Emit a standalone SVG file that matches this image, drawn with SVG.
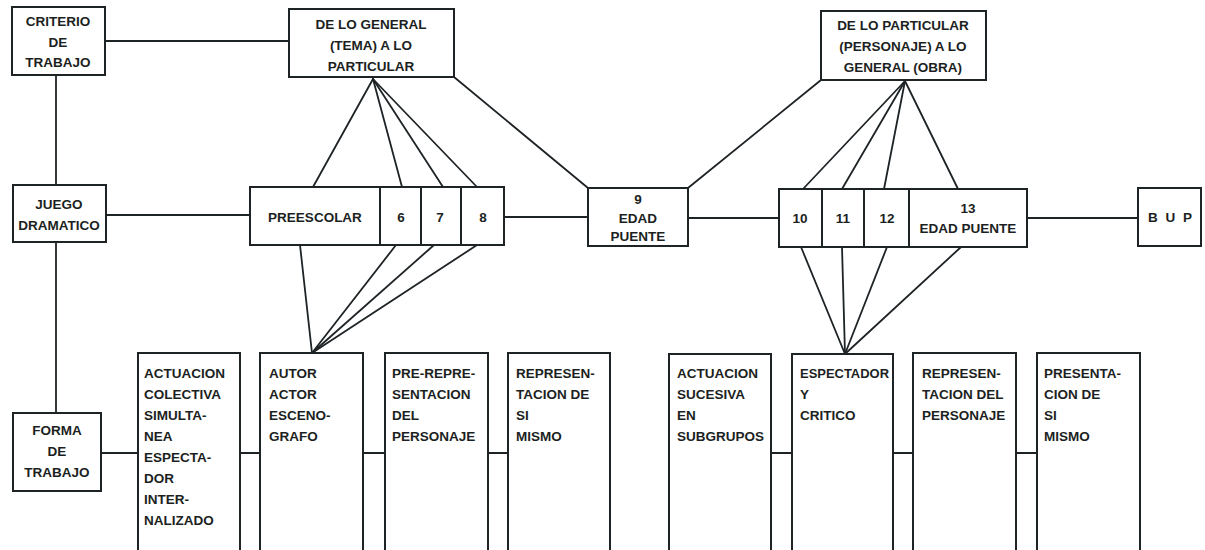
<svg xmlns="http://www.w3.org/2000/svg" width="1205" height="550" viewBox="0 0 1205 550">
  <style>
    .box { fill: #ffffff; stroke: #1e2326; stroke-width: 2; }
    .ln { fill: none; stroke: #1e2326; stroke-width: 1.8; stroke-linecap: round; }
    text { font-family: "Liberation Sans", Arial, sans-serif; font-weight: bold; font-size: 13.5px; fill: #1c1f22; }
    .c { text-anchor: middle; }
  </style>
  <rect width="1205" height="550" fill="#ffffff"/>

  <!-- connectors -->
  <g id="connectors">
    <!-- left column -->
    <line class="ln" x1="105" y1="41" x2="289" y2="41"/>
    <line class="ln" x1="56" y1="75" x2="56" y2="185"/>
    <line class="ln" x1="56" y1="242" x2="56" y2="413"/>
    <line class="ln" x1="106" y1="215" x2="250" y2="215"/>
    <!-- age row -->
    <line class="ln" x1="504" y1="217" x2="588" y2="217"/>
    <line class="ln" x1="688" y1="218" x2="779" y2="218"/>
    <line class="ln" x1="1027" y1="218" x2="1138" y2="218"/>
    <!-- fan: general to particular -->
    <line class="ln" x1="373" y1="79" x2="313" y2="187"/>
    <line class="ln" x1="373" y1="79" x2="402" y2="187"/>
    <line class="ln" x1="373" y1="79" x2="443" y2="187"/>
    <line class="ln" x1="373" y1="79" x2="477" y2="187"/>
    <line class="ln" x1="454" y1="77" x2="588" y2="188"/>
    <!-- fan: particular to general -->
    <line class="ln" x1="821" y1="80" x2="688" y2="188"/>
    <line class="ln" x1="905" y1="81" x2="803" y2="189"/>
    <line class="ln" x1="905" y1="81" x2="842" y2="189"/>
    <line class="ln" x1="905" y1="81" x2="884" y2="189"/>
    <line class="ln" x1="905" y1="81" x2="958" y2="189"/>
    <!-- fan down to AUTOR -->
    <line class="ln" x1="300" y1="245" x2="312" y2="353"/>
    <line class="ln" x1="396" y1="245" x2="312" y2="353"/>
    <line class="ln" x1="434" y1="245" x2="312" y2="353"/>
    <line class="ln" x1="477" y1="245" x2="312" y2="353"/>
    <!-- fan down to ESPECTADOR -->
    <line class="ln" x1="801" y1="247" x2="845" y2="354"/>
    <line class="ln" x1="842" y1="247" x2="845" y2="354"/>
    <line class="ln" x1="887" y1="247" x2="845" y2="354"/>
    <line class="ln" x1="961" y1="247" x2="845" y2="354"/>
    <!-- working-form row -->
    <line class="ln" x1="101" y1="453" x2="138" y2="453"/>
    <line class="ln" x1="240" y1="453" x2="260" y2="453"/>
    <line class="ln" x1="363" y1="453" x2="385" y2="453"/>
    <line class="ln" x1="488" y1="453" x2="508" y2="453"/>
    <line class="ln" x1="771" y1="453" x2="792" y2="453"/>
    <line class="ln" x1="893" y1="453" x2="913" y2="453"/>
    <line class="ln" x1="1016" y1="453" x2="1037" y2="453"/>
  </g>

  <!-- row headings -->
  <g id="criterio">
    <rect class="box" x="12" y="7" width="93" height="68"/>
    <text class="c" x="58" y="26">CRITERIO</text>
    <text class="c" x="58" y="47">DE</text>
    <text class="c" x="58" y="67">TRABAJO</text>
  </g>
  <g id="juego">
    <rect class="box" x="13" y="185" width="93" height="57"/>
    <text class="c" x="59" y="209">JUEGO</text>
    <text class="c" x="59" y="230">DRAMATICO</text>
  </g>
  <g id="forma">
    <rect class="box" x="13" y="413" width="88" height="78"/>
    <text class="c" x="57" y="435">FORMA</text>
    <text class="c" x="57" y="456">DE</text>
    <text class="c" x="57" y="477">TRABAJO</text>
  </g>

  <!-- criteria -->
  <g id="general-particular">
    <rect class="box" x="289" y="9" width="165" height="68"/>
    <text class="c" x="371" y="29">DE LO GENERAL</text>
    <text class="c" x="371" y="50">(TEMA) A LO</text>
    <text class="c" x="371" y="71">PARTICULAR</text>
  </g>
  <g id="particular-general">
    <rect class="box" x="821" y="11" width="165" height="69"/>
    <text class="c" x="903" y="30">DE LO PARTICULAR</text>
    <text class="c" x="903" y="51">(PERSONAJE) A LO</text>
    <text class="c" x="903" y="72">GENERAL (OBRA)</text>
  </g>

  <!-- ages -->
  <g id="preescolar">
    <rect class="box" x="250" y="187" width="130" height="58"/>
    <text class="c" x="315" y="222">PREESCOLAR</text>
  </g>
  <g id="edad-6">
    <rect class="box" x="380" y="187" width="41" height="58"/>
    <text class="c" x="401" y="222">6</text>
  </g>
  <g id="edad-7">
    <rect class="box" x="421" y="187" width="40" height="58"/>
    <text class="c" x="440" y="222">7</text>
  </g>
  <g id="edad-8">
    <rect class="box" x="461" y="187" width="43" height="58"/>
    <text class="c" x="483" y="222">8</text>
  </g>
  <g id="edad-9">
    <rect class="box" x="588" y="188" width="100" height="58"/>
    <text class="c" x="638" y="204">9</text>
    <text class="c" x="638" y="223">EDAD</text>
    <text class="c" x="638" y="241">PUENTE</text>
  </g>
  <g id="edad-10">
    <rect class="box" x="779" y="189" width="43" height="58"/>
    <text class="c" x="800" y="223">10</text>
  </g>
  <g id="edad-11">
    <rect class="box" x="822" y="189" width="42" height="58"/>
    <text class="c" x="843" y="223">11</text>
  </g>
  <g id="edad-12">
    <rect class="box" x="864" y="189" width="45" height="58"/>
    <text class="c" x="887" y="223">12</text>
  </g>
  <g id="edad-13">
    <rect class="box" x="909" y="189" width="118" height="58"/>
    <text class="c" x="968" y="213">13</text>
    <text class="c" x="968" y="233">EDAD PUENTE</text>
  </g>
  <g id="bup">
    <rect class="box" x="1138" y="188" width="63" height="58"/>
    <text class="c" x="1171" y="222" letter-spacing="2">B U P</text>
  </g>

  <!-- working forms (columns run off the bottom edge) -->
  <g id="actuacion-colectiva">
    <rect class="box" x="138" y="353" width="102" height="210"/>
    <text x="144" y="378">ACTUACION</text>
    <text x="144" y="399">COLECTIVA</text>
    <text x="144" y="420">SIMULTA-</text>
    <text x="144" y="441">NEA</text>
    <text x="144" y="462">ESPECTA-</text>
    <text x="144" y="483">DOR</text>
    <text x="144" y="504">INTER-</text>
    <text x="144" y="525">NALIZADO</text>
  </g>
  <g id="autor">
    <rect class="box" x="260" y="353" width="103" height="210"/>
    <text x="269" y="378">AUTOR</text>
    <text x="269" y="399">ACTOR</text>
    <text x="269" y="420">ESCENO-</text>
    <text x="269" y="441">GRAFO</text>
  </g>
  <g id="pre-representacion">
    <rect class="box" x="385" y="353" width="103" height="210"/>
    <text x="392" y="378">PRE-REPRE-</text>
    <text x="392" y="399">SENTACION</text>
    <text x="392" y="420">DEL</text>
    <text x="392" y="441">PERSONAJE</text>
  </g>
  <g id="representacion-si-mismo">
    <rect class="box" x="508" y="353" width="102" height="210"/>
    <text x="516" y="378">REPRESEN-</text>
    <text x="516" y="399">TACION DE</text>
    <text x="516" y="420">SI</text>
    <text x="516" y="441">MISMO</text>
  </g>
  <g id="actuacion-sucesiva">
    <rect class="box" x="669" y="354" width="102" height="210"/>
    <text x="677" y="378">ACTUACION</text>
    <text x="677" y="399">SUCESIVA</text>
    <text x="677" y="420">EN</text>
    <text x="677" y="441">SUBGRUPOS</text>
  </g>
  <g id="espectador">
    <rect class="box" x="792" y="354" width="101" height="210"/>
    <text x="800" y="378" textLength="89" lengthAdjust="spacingAndGlyphs">ESPECTADOR</text>
    <text x="800" y="399">Y</text>
    <text x="800" y="420">CRITICO</text>
  </g>
  <g id="representacion-personaje">
    <rect class="box" x="913" y="353" width="103" height="210"/>
    <text x="922" y="378">REPRESEN-</text>
    <text x="922" y="399">TACION DEL</text>
    <text x="922" y="420">PERSONAJE</text>
  </g>
  <g id="presentacion-si-mismo">
    <rect class="box" x="1037" y="353" width="103" height="210"/>
    <text x="1044" y="378">PRESENTA-</text>
    <text x="1044" y="399">CION DE</text>
    <text x="1044" y="420">SI</text>
    <text x="1044" y="441">MISMO</text>
  </g>
</svg>
